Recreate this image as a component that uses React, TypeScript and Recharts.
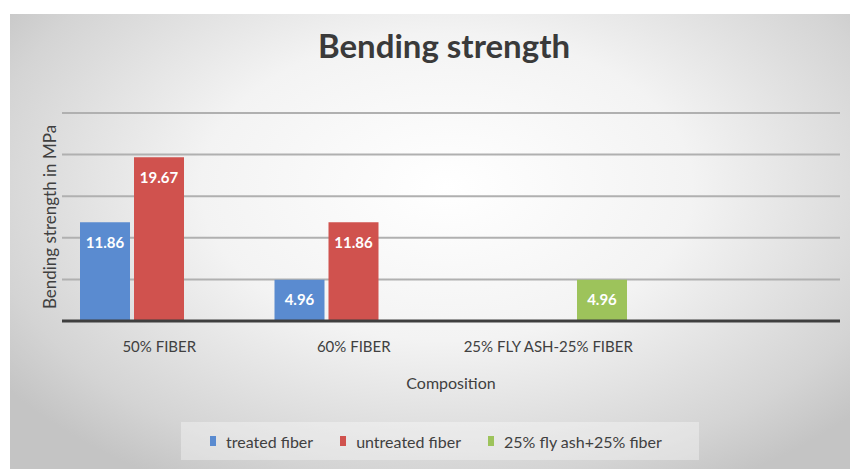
import React from 'react';
import { BarChart, Bar, XAxis, YAxis, CartesianGrid, LabelList } from 'recharts';

const categories = ['50% FIBER', '60% FIBER', '25% FLY ASH-25% FIBER', ''];
const treatedFiber = [11.86, 4.96, null, null];
const untreatedFiber = [19.67, 11.86, null, null];
const flyAshFiber = [null, null, 4.96, null];
const yTicks = [0, 5, 10, 15, 20, 25];

const data = categories.map((name, i) => ({
  name,
  treated: treatedFiber[i],
  untreated: untreatedFiber[i],
  flyash: flyAshFiber[i],
}));

const FONT = 'Lato, "Open Sans", sans-serif';
const BLUE = '#5a8bd0';
const RED = '#d0524e';
const GREEN = '#9dc35b';

const legendItems = [
  { label: 'treated fiber', color: BLUE },
  { label: 'untreated fiber', color: RED },
  { label: '25% fly ash+25% fiber', color: GREEN },
];

const valueLabel = {
  position: 'insideTop' as const,
  offset: 15,
  fill: '#ffffff',
  fontSize: 15,
  fontWeight: 700,
  fontFamily: FONT,
};

export default function App() {
  return (
    <div style={{ position: 'absolute', left: 0, top: 0, width: 850, height: 469, background: '#fff', fontFamily: FONT }}>
      {/* chart panel background */}
      <div
        style={{
          position: 'absolute', left: 10, top: 14, width: 840, height: 455,
          background: 'radial-gradient(ellipse 65% 75% at 52% 38%, #ffffff 0%, #f3f3f3 45%, #d4d4d4 85%, #c4c4c4 100%)',
        }}
      />
      <div
        style={{
          position: 'absolute', left: 0, top: 25, width: 888, textAlign: 'center',
          fontSize: 33, lineHeight: '40px', fontWeight: 700, color: '#3a3a3a',
        }}
      >
        Bending strength
      </div>
      <div style={{ position: 'absolute', left: 0, top: 0 }}>
        <BarChart
          width={850}
          height={469}
          data={data}
          margin={{ top: 113, right: 10, left: 32, bottom: 70 }}
          barSize={50}
          barGap={4}
        >
          <CartesianGrid vertical={false} stroke="#b0b0b0" strokeWidth={2} />
          <XAxis
            dataKey="name"
            height={78}
            tickLine={false}
            tickSize={0}
            tickMargin={20}
            axisLine={{ stroke: '#3f3f3f', strokeWidth: 3 }}
            tick={{ fontSize: 15, fill: '#404040', fontFamily: FONT }}
            interval={0}
            label={{
              value: 'Composition', position: 'insideBottom', offset: 10,
              fontSize: 16, fill: '#404040', fontFamily: FONT,
            }}
          />
          <YAxis
            width={30}
            domain={[0, 25]}
            ticks={yTicks}
            tick={{ fill: 'none', fontSize: 1 }}
            tickLine={false}
            axisLine={false}
            label={{
              value: 'Bending strength in MPa', angle: -90, position: 'insideLeft', offset: 18,
              fontSize: 17, fill: '#404040', fontFamily: FONT, style: { textAnchor: 'middle' },
            }}
          />
          <Bar dataKey="treated" fill={BLUE} isAnimationActive={false}>
            <LabelList dataKey="treated" {...valueLabel} />
          </Bar>
          <Bar dataKey="untreated" fill={RED} isAnimationActive={false}>
            <LabelList dataKey="untreated" {...valueLabel} />
          </Bar>
          <Bar dataKey="flyash" fill={GREEN} isAnimationActive={false}>
            <LabelList dataKey="flyash" {...valueLabel} />
          </Bar>
        </BarChart>
      </div>
      {/* legend */}
      <div
        style={{
          position: 'absolute', left: 181, top: 422, width: 518 - 29, height: 38, paddingLeft: 29,
          background: 'rgba(255,255,255,0.35)', display: 'flex', alignItems: 'center',
          justifyContent: 'flex-start', gap: 27, fontSize: 16, color: '#404040',
        }}
      >
        {legendItems.map((item) => (
          <div key={item.label} style={{ display: 'flex', alignItems: 'center', gap: 10 }}>
            <span style={{ display: 'inline-block', width: 6, height: 10, background: item.color }} />
            <span>{item.label}</span>
          </div>
        ))}
      </div>
    </div>
  );
}
